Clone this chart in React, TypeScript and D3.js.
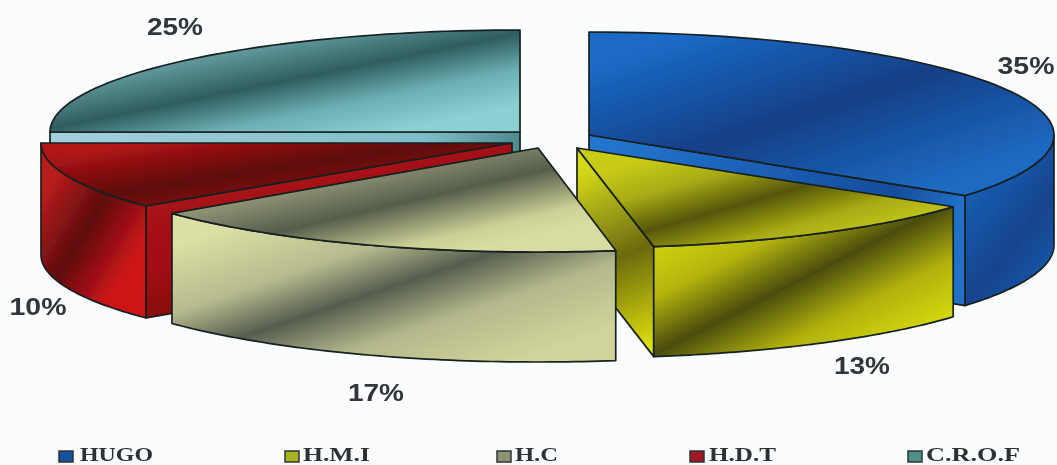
import React from "react";
import * as d3 from "d3";

const categories = ["HUGO", "H.M.I", "H.C", "H.D.T", "C.R.O.F"];
const shares = [35, 13, 17, 10, 25];
const percentLabels = ["35%", "13%", "17%", "10%", "25%"];

type Grad = { v: number[]; s: string[]; o?: number[] };
type Style = { cx: number; cy: number; rx: number; ry: number; depth: number; top: Grad; wall: Grad; face: Grad; label: number[]; lw: number; lg: number[]; marker: string };

const W = 1057, H = 465;
// drawn-angle correction for the picture's perspective
const warp = d3.scaleLinear().domain([0, 126, 172.8, 234, 270, 360]).range([0, 126, 170.5, 231, 270, 360]);

const styles: Style[] = [
  { cx: 589, cy: 135, rx: 465, ry: 103, depth: 110,
    top: { v: [778, 5, 848, 215], s: ["#1b6ac6", "#123f86", "#1e6ac2"] },
    wall: { v: [960, 210, 1060, 290], s: ["#1a5cb0", "#14448c", "#1b5fb5"] },
    face: { v: [600, 140, 940, 260], s: ["#2476ce", "#1a5cb2", "#174d9a", "#2070c8"], o: [0, 0.5, 0.82, 1] },
    label: [1026, 66], lw: 57, lg: [59, 80, 73], marker: "#17529e" },
  { cx: 577, cy: 148, rx: 465, ry: 100, depth: 110,
    top: { v: [712, 140, 750, 274], s: ["#c8cc18", "#a8aa14", "#55560c", "#a8aa12", "#c8cc14"], o: [0, 0.25, 0.5, 0.75, 1] },
    wall: { v: [745, 196, 835, 374], s: ["#d0d410", "#b4b410", "#4a4c0c", "#b0b010", "#d4d80e"], o: [0, 0.25, 0.5, 0.75, 1] },
    face: { v: [590, 170, 660, 340], s: ["#d4d818", "#6a6a10", "#dcdc10"] },
    label: [862, 366], lw: 56, lg: [285, 303, 67], marker: "#a9b320" },
  { cx: 538, cy: 148, rx: 471, ry: 104, depth: 110,
    top: { v: [379, 145, 407, 265], s: ["#b0b48c", "#565d4c", "#ccd096", "#d8dca0"], o: [0, 0.5, 0.85, 1] },
    wall: { v: [341, 188, 411, 396], s: ["#dce0a4", "#b6ba8e", "#565d4e", "#b4b88c", "#d0d49a"], o: [0, 0.3, 0.5, 0.72, 1] },
    face: { v: [0, 0, 1, 1], s: ["#666", "#666", "#666"] },
    label: [376, 393], lw: 56, lg: [497, 515, 43], marker: "#8f9270" },
  { cx: 512, cy: 143, rx: 471, ry: 100, depth: 112,
    top: { v: [243, 127, 257, 217], s: ["#b01414", "#5e0a0c", "#9c1014"] },
    wall: { v: [36, 206, 130, 264], s: ["#b81c1c", "#5e0c0e", "#cc1418"] },
    face: { v: [300, 170, 330, 300], s: ["#a81214", "#a01012", "#7c0c0e"] },
    label: [38, 307], lw: 57, lg: [690, 709, 67], marker: "#a01520" },
  { cx: 520, cy: 132, rx: 470, ry: 102, depth: 110,
    top: { v: [226, 21, 254, 159], s: ["#6fa9ad", "#5d9497", "#2f5d60", "#6cafb3", "#8cd0d4"], o: [0, 0.25, 0.5, 0.75, 1] },
    wall: { v: [0, 0, 1, 1], s: ["#666", "#666", "#666"] },
    face: { v: [50, 133, 520, 145], s: ["#a4cfde", "#7fbcc8", "#4f8a90"], o: [0, 0.8, 1] },
    label: [175, 27], lw: 56, lg: [908, 926, 94], marker: "#4f8f85" },
];
const drawOrder = [4, 0, 3, 1, 2];
// which radial edge of each slice shows its cut face
const faceEdge: Record<number, "start" | "end" | null> = { 0: "end", 1: "end", 2: null, 3: "start", 4: "start" };

const arcs = d3.pie<number>().sort(null).startAngle(0).endAngle(2 * Math.PI)(shares);
const deg = (r: number) => (r * 180) / Math.PI;
const line = d3.line<number[]>().x(p => p[0]).y(p => p[1]);

function GradDef({ id, g }: { id: string; g: Grad }) {
  return (
    <linearGradient id={id} gradientUnits="userSpaceOnUse" x1={g.v[0]} y1={g.v[1]} x2={g.v[2]} y2={g.v[3]}>
      {g.s.map((c, i) => <stop key={i} offset={g.o ? g.o[i] : i / (g.s.length - 1)} stopColor={c} />)}
    </linearGradient>
  );
}

export default function App() {
  const stroke = "#172020";
  const slices = drawOrder.map(i => {
    const st = styles[i];
    const a0 = warp(deg(arcs[i].startAngle));
    const a1 = warp(deg(arcs[i].endAngle));
    const pt = (a: number, dy = 0) => {
      const r = (a * Math.PI) / 180;
      return [st.cx + st.rx * Math.sin(r), st.cy - st.ry * Math.cos(r) + dy];
    };
    const arcPts = d3.range(0, 61).map(k => pt(a0 + ((a1 - a0) * k) / 60));
    const topPath = line([[st.cx, st.cy], ...arcPts]) + "Z";
    const wa0 = Math.max(a0, 90), wa1 = Math.min(a1, 270);
    let wallPath = null as string | null;
    if (wa1 > wa0) {
      const up = d3.range(0, 61).map(k => pt(wa0 + ((wa1 - wa0) * k) / 60));
      const dn = up.map(p => [p[0], p[1] + st.depth]).reverse();
      wallPath = line([...up, ...dn]) + "Z";
    }
    const edge = faceEdge[i];
    let facePath = null as string | null;
    if (edge) {
      const c = pt(edge === "start" ? a0 : a1);
      facePath = line([[st.cx, st.cy], c, [c[0], c[1] + st.depth], [st.cx, st.cy + st.depth]]) + "Z";
    }
    return { i, topPath, wallPath, facePath };
  });

  return (
    <svg width={W} height={H} viewBox={`0 0 ${W} ${H}`} style={{ position: "fixed", left: 0, top: 0, background: "#fbfcfe" }}>
      <defs>
        <filter id="soft" x="-2%" y="-2%" width="104%" height="104%"><feGaussianBlur stdDeviation="0.6" /></filter>
        {styles.map((st, i) => (
          <React.Fragment key={i}>
            <GradDef id={`top${i}`} g={st.top} />
            <GradDef id={`wall${i}`} g={st.wall} />
            <GradDef id={`face${i}`} g={st.face} />
          </React.Fragment>
        ))}
      </defs>
      <g filter="url(#soft)">
        {slices.map(s => (
          <g key={s.i} stroke={stroke} strokeWidth={1.7} strokeLinejoin="round">
            {s.facePath && <path d={s.facePath} fill={`url(#face${s.i})`} />}
            {s.wallPath && <path d={s.wallPath} fill={`url(#wall${s.i})`} />}
            <path d={s.topPath} fill={`url(#top${s.i})`} />
          </g>
        ))}
        {percentLabels.map((t, i) => (
          <text key={t} x={styles[i].label[0]} y={styles[i].label[1] + 8} textAnchor="middle" fontFamily="'Liberation Sans', Arial, sans-serif"
            fontWeight="bold" fontSize={24} fill="#33363a" textLength={styles[i].lw} lengthAdjust="spacingAndGlyphs">{t}</text>
        ))}
        {categories.map((c, i) => (
          <g key={c}>
            <rect x={styles[i].lg[0]} y={451} width={14} height={11} fill={styles[i].marker} stroke="#2c3438" strokeWidth={1.5} />
            <text x={styles[i].lg[1]} y={460.5} fontFamily="'Liberation Serif', serif" fontWeight="bold" fontSize={18} fill="#2a3034"
              textLength={styles[i].lg[2]} lengthAdjust="spacingAndGlyphs">{c}</text>
          </g>
        ))}
      </g>
    </svg>
  );
}
